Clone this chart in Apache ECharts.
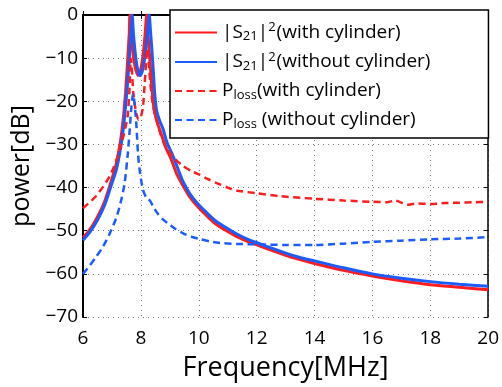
<!DOCTYPE html>
<html>
<head>
<meta charset="utf-8">
<script src="https://cdn.jsdelivr.net/npm/echarts@6/dist/echarts.min.js"></script>
<style>html,body{margin:0;padding:0;background:#fff;}#c{width:502px;height:387px;}</style>
</head>
<body>
<div id="c"></div>
<script>
// ---- data ----
var xTicks = [6, 8, 10, 12, 14, 16, 18, 20];
var yTicks = [-70, -60, -50, -40, -30, -20, -10, 0];

var seriesNames = ['s21with', 's21without', 'plossWith', 'plossWithout'];

var freqS21With = [6.0,6.25,6.5,6.75,7.0,7.15,7.3,7.4,7.47,7.52,7.57,7.6,7.62,7.66,7.72,7.8,7.9,8.0,8.08,8.14,8.2,8.24,8.29,8.34,8.39,8.46,8.57,8.7,8.85,9.05,9.25,9.45,9.7,10.0,10.3,10.6,11.0,11.3,11.7,12.1,12.5,13,13.5,14,15,16,17,18,19,20];
var s21With = [-51.6,-49.6,-46.8,-43.2,-38,-34.5,-29,-23.5,-18,-13,-7.5,-4,0,-4,-8.5,-12,-14,-12.5,-9,-5,0,-4,-8.5,-13,-17.5,-22,-25,-27.5,-30.5,-33.5,-37,-39.5,-42.3,-44.7,-46.7,-48.5,-50.2,-51.3,-52.5,-53.5,-54.5,-55.7,-56.7,-57.6,-59.2,-60.5,-61.6,-62.5,-63.1,-63.7];

var freqS21Without = [6.0,6.25,6.5,6.75,7.0,7.15,7.3,7.4,7.5,7.56,7.62,7.66,7.70,7.74,7.8,7.87,7.97,8.07,8.15,8.22,8.29,8.33,8.38,8.43,8.47,8.54,8.65,8.77,8.9,9.1,9.3,9.45,9.7,10.0,10.3,10.6,11.0,11.3,11.7,12.1,12.5,13,13.5,14,15,16,17,18,19,20];
var s21Without = [-52.2,-50.2,-47.5,-44,-39,-35.9,-30.8,-26,-19,-14,-8,-4,0,-4,-8.5,-12,-14.1,-12.5,-9,-5,0,-3.5,-8,-13,-17.5,-22,-24.5,-26.5,-29.5,-32.5,-36,-38.5,-41.5,-44,-46,-47.8,-49.5,-50.7,-52,-53,-54,-55.2,-56.2,-57,-58.6,-60,-61,-61.8,-62.4,-62.9];

var freqPlossWith = [6.0,6.46,6.92,7.15,7.38,7.5,7.55,7.6,7.63,7.65,7.68,7.74,7.82,7.92,8.0,8.07,8.13,8.18,8.22,8.27,8.33,8.42,8.55,8.7,8.88,9.0,9.2,9.46,9.75,10.03,10.3,10.6,11.0,11.3,12.0,12.8,14,15,16,16.5,16.8,17.0,17.2,17.5,18,18.5,19,19.5,20];
var plossWith = [-44.8,-41.9,-37.4,-33.7,-28.5,-25,-23,-18,-13,-10,-12,-18,-22,-24.3,-23.5,-21.5,-16,-11,-7.8,-11,-16,-21,-24.5,-28,-31,-32,-33.5,-35,-36.2,-37,-38,-38.9,-40,-40.7,-41.3,-42,-42.6,-43,-43.3,-43.4,-43,-43.5,-44,-43.7,-43.8,-43.6,-43.5,-43.4,-43.3];

var freqPlossWithout = [6.0,6.23,6.46,6.69,6.92,7.15,7.3,7.44,7.55,7.61,7.67,7.73,7.79,7.85,7.9,7.97,8.07,8.2,8.31,8.41,8.6,8.8,9.0,9.2,9.46,9.75,10.03,10.4,10.84,11.5,12.2,13,14,15,16,17,18,19,20];
var plossWithout = [-60,-58.1,-56,-53.7,-50.7,-47,-43.5,-38.9,-32,-27,-21.5,-18.3,-21,-26,-32.2,-36.5,-40.4,-42.5,-43,-44.2,-46.2,-47.6,-48.6,-49.6,-50.6,-51.4,-51.9,-52.5,-52.9,-53.1,-53.2,-53.3,-53.3,-53.0,-52.6,-52.3,-52.0,-51.8,-51.5];

function zip(xs, ys) { return xs.map(function (x, i) { return [x, ys[i]]; }); }

var RED = '#ff1c1c';
var BLUE = '#1a5cff';
var FONT = 'Open Sans';

var chart = echarts.init(document.getElementById('c'), null, { renderer: 'canvas' });

var minus = function (v) { return String(v).replace('-', '\u2212'); };

var option = {
  animation: false,
  backgroundColor: '#fff',
  textStyle: { fontFamily: FONT, color: '#000' },
  grid: { left: 83, right: 13, top: 15, bottom: 57, containLabel: false },
  xAxis: [{
    type: 'value', min: xTicks[0], max: xTicks[xTicks.length - 1], interval: 2,
    position: 'bottom',
    name: 'Frequency[MHz]', nameLocation: 'middle', nameGap: 38,
    nameTextStyle: { fontSize: 27, color: '#000', fontFamily: FONT },
    axisLine: { show: true, lineStyle: { color: '#000', width: 2 } },
    axisTick: { show: true, inside: true, length: 4, lineStyle: { color: '#000', width: 1 } },
    axisLabel: { fontSize: 19, color: '#000', margin: 12, fontFamily: FONT },
    splitLine: { show: true, lineStyle: { color: '#777', type: [1, 4], width: 1 } }
  }, {
    type: 'value', min: 6, max: 20, interval: 2, position: 'top',
    axisLine: { show: true, onZero: false, lineStyle: { color: '#000', width: 1.5 } },
    axisTick: { show: true, inside: true, length: 4, lineStyle: { color: '#000', width: 1 } },
    axisLabel: { show: false }, splitLine: { show: false }
  }],
  yAxis: [{
    type: 'value', min: yTicks[0], max: yTicks[yTicks.length - 1], interval: 10,
    position: 'left',
    name: 'power[dB]', nameLocation: 'middle', nameGap: 46, nameRotate: 90,
    nameTextStyle: { fontSize: 25, color: '#000', fontFamily: FONT },
    axisLine: { show: true, onZero: false, lineStyle: { color: '#000', width: 2 } },
    axisTick: { show: true, inside: true, length: 4, lineStyle: { color: '#000', width: 1 } },
    axisLabel: { fontSize: 19, color: '#000', margin: 5, fontFamily: FONT, formatter: minus },
    splitLine: { show: true, lineStyle: { color: '#777', type: [1, 4], width: 1 } }
  }, {
    type: 'value', min: -70, max: 0, interval: 10, position: 'right',
    axisLine: { show: true, onZero: false, lineStyle: { color: '#000', width: 1.5 } },
    axisTick: { show: true, inside: true, length: 4, lineStyle: { color: '#000', width: 1 } },
    axisLabel: { show: false }, splitLine: { show: false }
  }],
  legend: {
    orient: 'vertical', left: 170, top: 10,
    padding: [11, 58, 7, 4],
    itemWidth: 42, itemHeight: 14, itemGap: 7,
    backgroundColor: '#fff', borderColor: '#000', borderWidth: 1.5, borderRadius: 0,
    itemStyle: { opacity: 0, borderWidth: 0 },
    data: seriesNames,
    formatter: function (name) {
      if (name === 's21with') return '|S{sub|21}|{sup|2}{t|(with cylinder)}';
      if (name === 's21without') return '|S{sub|21}|{sup|2}{t|(without cylinder)}';
      if (name === 'plossWith') return 'P{sub|loss}{t|(with cylinder)}';
      return 'P{sub|loss}{t| (without cylinder)}';
    },
    textStyle: {
      fontSize: 19, color: '#000', fontFamily: FONT, lineHeight: 22, padding: [0, 0, 0, 0],
      rich: {
        sub: { fontSize: 13, fontFamily: FONT, color: '#000', padding: [8, 0, 0, 0] },
        sup: { fontSize: 13, fontFamily: FONT, color: '#000', padding: [0, 1, 10, 0] },
        t: { fontSize: 19, fontFamily: FONT, color: '#000' }
      }
    }
  },
  series: [
    { name: 's21with', type: 'line', data: zip(freqS21With, s21With), showSymbol: false, symbol: 'none', clip: true,
      lineStyle: { color: RED, width: 3 }, itemStyle: { color: RED }, smooth: 0.25 },
    { name: 's21without', type: 'line', data: zip(freqS21Without, s21Without), showSymbol: false, symbol: 'none', clip: true,
      lineStyle: { color: BLUE, width: 3 }, itemStyle: { color: BLUE }, smooth: 0.25 },
    { name: 'plossWith', type: 'line', data: zip(freqPlossWith, plossWith), showSymbol: false, symbol: 'none', clip: true,
      lineStyle: { color: RED, width: 2.5, type: [7, 4.5] }, itemStyle: { color: RED }, smooth: 0.25 },
    { name: 'plossWithout', type: 'line', data: zip(freqPlossWithout, plossWithout), showSymbol: false, symbol: 'none', clip: true,
      lineStyle: { color: BLUE, width: 2.5, type: [7, 4.5] }, itemStyle: { color: BLUE }, smooth: 0.25 }
  ]
};
chart.setOption(option);
</script>
</body>
</html>
